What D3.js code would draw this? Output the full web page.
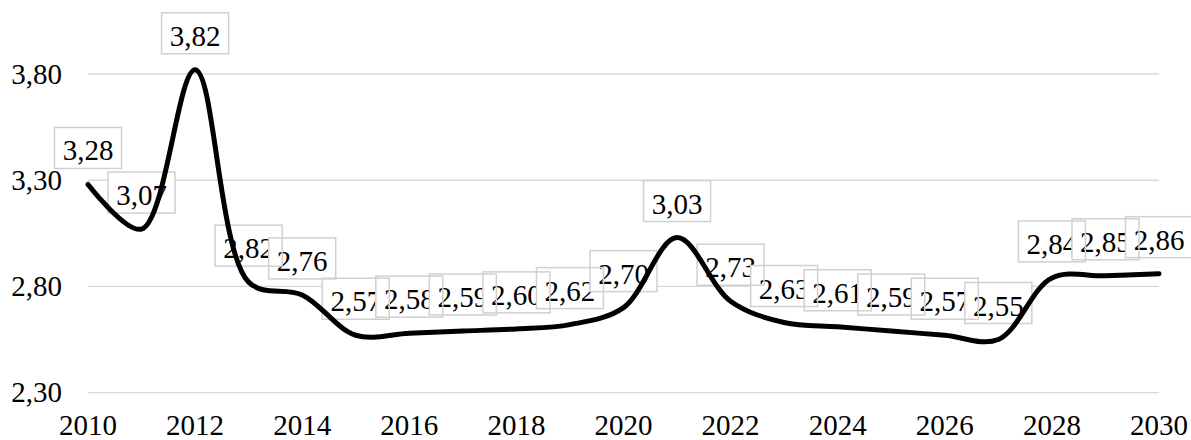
<!DOCTYPE html>
<html>
<head>
<meta charset="utf-8">
<script src="https://cdn.jsdelivr.net/npm/d3@7"></script>
<style>
  html, body { margin: 0; padding: 0; background: #fff; }
  svg { display: block; }
</style>
</head>
<body>
<svg id="chart" width="1191" height="440"></svg>
<script>
// Yearly values, 2010–2030
const years  = [2010, 2011, 2012, 2013, 2014, 2015, 2016, 2017, 2018, 2019, 2020,
                2021, 2022, 2023, 2024, 2025, 2026, 2027, 2028, 2029, 2030];
const values = [3.28, 3.07, 3.82, 2.82, 2.76, 2.57, 2.58, 2.59, 2.60, 2.62, 2.70,
                3.03, 2.73, 2.63, 2.61, 2.59, 2.57, 2.55, 2.84, 2.85, 2.86];
const yTicks = [2.30, 2.80, 3.30, 3.80];
const xTicks = [2010, 2012, 2014, 2016, 2018, 2020, 2022, 2024, 2026, 2028, 2030];

const FONT = '"Liberation Serif", serif';
const FONT_SIZE = "29px";
const locale = d3.formatLocale({ decimal: ",", thousands: " ", grouping: [3], currency: ["", ""] });
const fmt = locale.format(".2f");

const svg = d3.select("#chart");
const left = 88, right = 1159;
const x = d3.scaleLinear().domain([2010, 2030]).range([left, right]);
const y = d3.scaleLinear().domain([2.30, 3.80]).range([392.6, 74]);

const data = years.map((yr, i) => ({ year: yr, value: values[i] }));

// Horizontal gridlines
svg.append("g").selectAll("line").data(yTicks).join("line")
  .attr("x1", left).attr("x2", right)
  .attr("y1", d => y(d)).attr("y2", d => y(d))
  .attr("stroke", "#d9d9d9").attr("stroke-width", 1.4);

// Value axis labels
svg.append("g").selectAll("text").data(yTicks).join("text")
  .attr("x", 62).attr("y", d => y(d))
  .attr("dy", "0.34em")
  .attr("text-anchor", "end")
  .style("font-family", FONT)
  .style("font-size", FONT_SIZE)
  .text(d => fmt(d));

// Year axis labels
svg.append("g").selectAll("text").data(xTicks).join("text")
  .attr("x", d => x(d)).attr("y", 435)
  .attr("text-anchor", "middle")
  .style("font-family", FONT)
  .style("font-size", FONT_SIZE)
  .text(d => d);

// Data labels: white-filled boxes with text, drawn in order
const boxW = 67, boxH = 41, gap = 16;
const labels = svg.append("g");
data.forEach(d => {
  const cx = x(d.year), bottom = y(d.value) - gap;
  labels.append("rect")
    .attr("x", cx - boxW / 2).attr("y", bottom - boxH)
    .attr("width", boxW).attr("height", boxH)
    .attr("fill", "#fff");
  labels.append("text")
    .attr("x", cx).attr("y", bottom - 8)
    .attr("text-anchor", "middle")
    .style("font-family", FONT)
    .style("font-size", FONT_SIZE)
    .text(fmt(d.value));
});

// Label borders
svg.append("g").selectAll("rect").data(data).join("rect")
  .attr("x", d => x(d.year) - boxW / 2)
  .attr("y", d => y(d.value) - gap - boxH)
  .attr("width", boxW).attr("height", boxH)
  .attr("fill", "none")
  .attr("stroke", "#d0d0d0").attr("stroke-width", 1.5);

// Smoothed series line
const line = d3.line()
  .x(d => x(d.year))
  .y(d => y(d.value))
  .curve(d3.curveCatmullRom.alpha(0.5));

svg.append("path")
  .datum(data)
  .attr("d", line)
  .attr("fill", "none")
  .attr("stroke", "#000")
  .attr("stroke-width", 5)
  .attr("stroke-linejoin", "round")
  .attr("stroke-linecap", "round");
</script>
</body>
</html>
